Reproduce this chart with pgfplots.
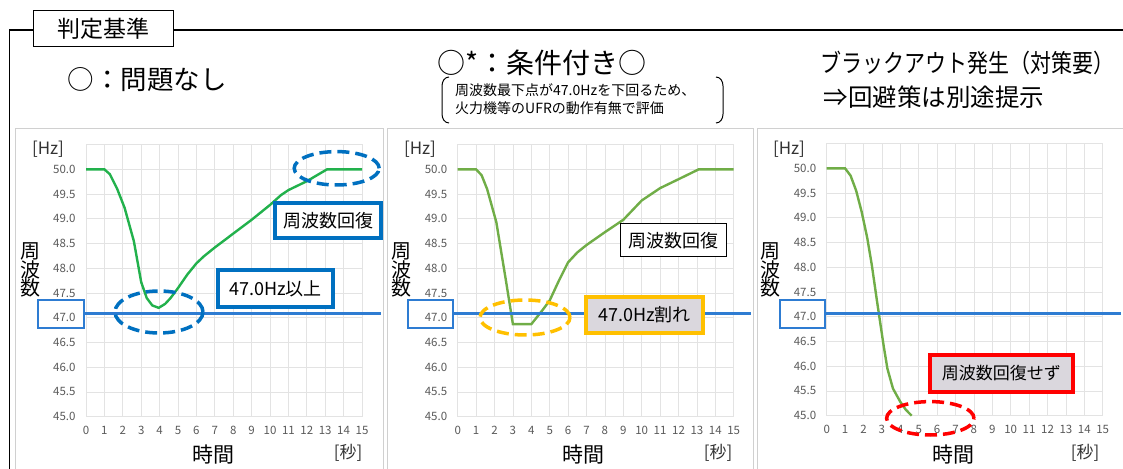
\documentclass[border=0pt]{standalone}
\usepackage{fontspec}
\setmainfont{Noto Sans CJK JP}
\usepackage{graphicx}
\usepackage{pgfplots}
\pgfplotsset{compat=1.18}

\definecolor{tickgray}{HTML}{595959}
\definecolor{gridgray}{HTML}{E3E3E3}
\definecolor{panelgray}{HTML}{D0D0D0}
\definecolor{gbright}{HTML}{22B14C}
\definecolor{gsoft}{HTML}{70AD47}
\definecolor{refblue}{HTML}{2E7CD2}
\definecolor{boxblue}{HTML}{0070C0}
\definecolor{gold}{HTML}{FFC000}
\definecolor{boxfill}{HTML}{DAD7DD}
\definecolor{alarmred}{HTML}{FF0000}

\newcommand\fs[1]{\fontsize{#1}{#1}\selectfont}

\pgfplotsset{
  panel/.style={
    scale only axis, width=276pt, height=272.1pt,
    anchor=south west,
    xmin=0, xmax=15, ymin=45, ymax=50.5,
    xtick={0,1,...,15},
    ytick={45,45.5,46,46.5,47,47.5,48,48.5,49,49.5,50},
    grid=major,
    major grid style={draw=gridgray, line width=0.8pt},
    axis line style={draw=gridgray, line width=0.8pt},
    tick style={draw=none},
    /pgf/number format/assume math mode=true,
    ticklabel style={font=\fs{11.5}, text=tickgray},
    yticklabel style={xshift=-7pt, /pgf/number format/.cd, fixed, fixed zerofill, precision=1},
    xticklabel style={yshift=-6pt},
    clip=false,
  },
}

\pgfplotstableread{
t f
0 50
1 50
1.3 49.9
1.7 49.6
2.1 49.22
2.6 48.55
3.0 47.72
3.3 47.4
3.6 47.25
3.95 47.2
4.3 47.28
4.6 47.4
5.0 47.6
5.5 47.87
6.0 48.1
6.4 48.24
7 48.42
8 48.7
9 48.98
10 49.28
10.6 49.48
11 49.58
12 49.76
13.1 50
15 50
}\okcase

\pgfplotstableread{
t f
0 50
1 50
1.3 49.88
1.6 49.6
2.1 48.93
2.6 47.8
3.0 46.87
4.0 46.87
4.6 47.15
5.0 47.35
5.5 47.75
6.0 48.12
6.5 48.32
7 48.47
8 48.73
9 48.98
10 49.37
11 49.62
12 49.8
13.1 50
15 50
}\condcase

\pgfplotstableread{
t f
0 50
1 50
1.3 49.85
1.6 49.55
1.9 49.12
2.2 48.6
2.45 48.05
2.7 47.4
2.9 46.9
3.1 46.4
3.3 45.95
3.6 45.55
4.0 45.28
4.3 45.12
4.62 45.0
}\blackout

\begin{document}
\begin{tikzpicture}[x=1pt,y=1pt]
\path[use as bounding box] (0,0) rectangle (1123,468);

% outer frame and heading
\draw[line width=1.5] (9.5,-2) -- (9.5,438) -- (33,438);
\draw[line width=1.5] (173,438) -- (1125,438);
\draw[line width=1, fill=white] (33,457) rectangle (173,421);
\node at (103,439) {\fs{23}判定基準};

% panel frames
\draw[panelgray, line width=1] (15,-5) rectangle (383,339);
\draw[panelgray, line width=1] (387,-5) rectangle (753,339);
\draw[panelgray, line width=1] (757,-5) rectangle (1130,339);

% headers
\node[anchor=west] at (64,388) {\fs{26.5}○：問題なし};
\node[anchor=west] at (434,405) {\fs{28}○*：条件付き○};
\node[anchor=west, align=left, inner sep=0] at (455,369) {\fs{14}周波数最下点が47.0Hzを下回るため、\\[4pt]\fs{14}火力機等のUFRの動作有無で評価};
\draw[line width=1] (449,391) to[out=180,in=90] (442,382) -- (442,354) to[out=-90,in=180] (449,345);
\draw[line width=1] (716,391) to[out=0,in=90] (723,382) -- (723,354) to[out=-90,in=0] (716,345);
\node at (967,405) {\scalebox{0.84}[1]{\fs{25}ブラックアウト発生（対策要）}};
\node at (934,371) {\fs{24.5}⇒回避策は別途提示};

% ---- panel 1 ----
\begin{axis}[panel, at={(86pt,51.3pt)}]
\addplot[gbright, line width=2.4] table[x=t, y=f] {\okcase};
\end{axis}
% ---- panel 2 ----
\begin{axis}[panel, at={(457.7pt,51.3pt)}]
\addplot[gsoft, line width=2.4] table[x=t, y=f] {\condcase};
\end{axis}
% ---- panel 3 ----
\begin{axis}[panel, at={(826.7pt,52.3pt)}]
\addplot[gsoft, line width=2.4] table[x=t, y=f] {\blackout};
\end{axis}

% axis captions
\foreach \lx/\hx/\tx/\sx in {30/48/213/348, 401.7/420/583/718, 770.7/789/953/1085}{
  \node[align=center, inner sep=0] at (\lx,198) {\fs{20}周\\[-1pt]\fs{20}波\\[-1pt]\fs{20}数};
  \node[text=black!80] at (\hx,319) {\fs{17}[Hz]};
  \node at (\tx,13) {\fs{21}時間};
  \node[text=black!80] at (\sx,15) {\fs{17}[秒]};
}

% 47.0 Hz reference lines and boxed tick labels
\draw[refblue, line width=3] (84,154) -- (381,154);
\draw[refblue, line width=3] (453,154) -- (751,154);
\draw[refblue, line width=3] (825,154) -- (1121,154);
\draw[refblue, line width=2] (38,168) rectangle (84,140);
\draw[refblue, line width=2] (408,168) rectangle (453,140);
\draw[refblue, line width=2] (780,168) rectangle (825,140);

% panel 1 notes
\draw[boxblue, line width=3.5, dash pattern=on 12pt off 6pt] (336.7,299.7) ellipse [x radius=42.5, y radius=16.7];
\draw[boxblue, line width=3.5, dash pattern=on 12pt off 6pt] (159,156) ellipse [x radius=44, y radius=21];
\draw[boxblue, line width=3.5, fill=white] (275,265) rectangle (381,230);
\node at (328,247.5) {\fs{18}周波数回復};
\draw[boxblue, line width=3.5, fill=white] (218,198) rectangle (333,161);
\node at (275.5,179.5) {\fs{18}47.0Hz以上};

% panel 2 notes
\draw[gold, line width=3.5, dash pattern=on 12pt off 6pt] (525,150.5) ellipse [x radius=45, y radius=17.5];
\draw[gold, line width=4, fill=boxfill] (586,171) rectangle (703,135);
\node at (644.5,153) {\fs{18}47.0Hz割れ};
\draw[black, line width=1, fill=white] (620,244) rectangle (726.7,211.3);
\node at (673.3,227.6) {\fs{18}周波数回復};

% panel 3 notes
\draw[alarmred, line width=4, fill=boxfill] (930,113) rectangle (1072.7,76.3);
\node at (1001.3,94.6) {\fs{17}周波数回復せず};
\draw[alarmred, line width=3.5, dash pattern=on 12pt off 6pt] (930.3,49.7) ellipse [x radius=43.7, y radius=16.7];
\end{tikzpicture}
\end{document}
